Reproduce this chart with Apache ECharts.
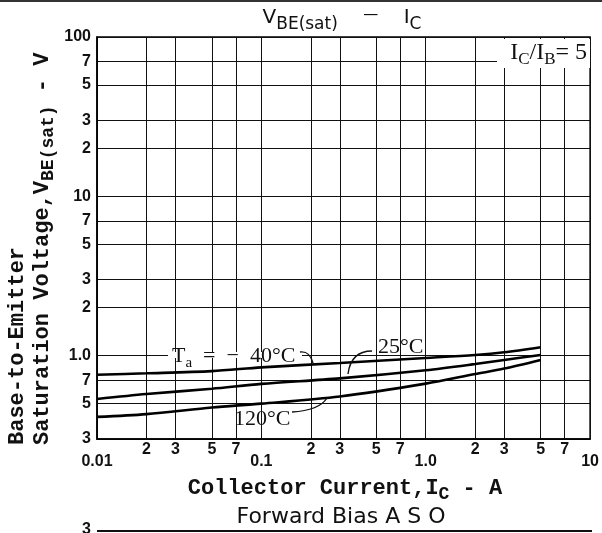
<!DOCTYPE html>
<html>
<head>
<meta charset="utf-8">
<script src="https://cdn.jsdelivr.net/npm/echarts@6/dist/echarts.min.js"></script>
<style>
  html, body { margin: 0; padding: 0; background: #fff; }
  #chart { width: 602px; height: 533px; }
</style>
</head>
<body>
<div id="chart"></div>
<script>
// collector current (A) and VBE(sat) (V)
var currentA = [0.01, 0.02, 0.05, 0.1, 0.3, 1, 2, 3, 5];
var vbeMinus40 = [0.76, 0.775, 0.80, 0.845, 0.90, 0.967, 1.01, 1.05, 1.13];
var vbe25 = [0.535, 0.575, 0.62, 0.665, 0.72, 0.81, 0.886, 0.94, 1.01];
var vbe120 = [0.413, 0.43, 0.473, 0.50, 0.555, 0.668, 0.767, 0.83, 0.94];

// grid / tick values
var xGridTicks = [0.01, 0.02, 0.03, 0.05, 0.07, 0.1, 0.2, 0.3, 0.5, 0.7, 1, 2, 3, 5, 7, 10];
var xMajorTicks = [0.01, 0.1, 1, 10];
var xMajorLabels = ['0.01', '0.1', '1.0', '10'];
var xMinorTicks = [0.02, 0.03, 0.05, 0.07, 0.2, 0.3, 0.5, 0.7, 2, 3, 5, 7];
var xMinorLabels = ['2', '3', '5', '7', '2', '3', '5', '7', '2', '3', '5', '7'];
var yTicks = [0.3, 0.5, 0.7, 1, 2, 3, 5, 7, 10, 20, 30, 50, 70, 100];
var yTickLabels = ['3', '5', '7', '1.0', '2', '3', '5', '7', '10', '2', '3', '5', '7', '100'];

function pick(v, ticks, labels) {
  var best = 0;
  for (var i = 1; i < ticks.length; i++) {
    if (Math.abs(Math.log(v / ticks[i])) < Math.abs(Math.log(v / ticks[best]))) best = i;
  }
  return labels[best];
}
function pairs(xs, ys) {
  return xs.map(function (x, i) { return [x, ys[i]]; });
}

var tickFont = { fontFamily: 'Liberation Sans', fontWeight: 'bold', fontSize: 16, color: '#111' };
var mono = 'Liberation Mono';
var serif = 'Liberation Serif';

var chart = echarts.init(document.getElementById('chart'));

var option = {
  animation: false,
  backgroundColor: '#fff',
  grid: {
    left: 97, right: 10, top: 37, bottom: 94,
    show: true, borderColor: '#000', borderWidth: 1.5
  },
  xAxis: [
    {
      type: 'log', logBase: 10, min: 0.01, max: 10,
      axisLine: { lineStyle: { color: '#000', width: 1.5 } },
      axisTick: { show: false, customValues: xGridTicks },
      splitLine: { show: true, lineStyle: { color: '#111', width: 1 } },
      axisLabel: Object.assign({
        customValues: xMajorTicks, margin: 15,
        formatter: function (v) { return pick(v, xMajorTicks, xMajorLabels); }
      }, tickFont)
    },
    {
      type: 'log', logBase: 10, min: 0.01, max: 10, position: 'bottom',
      axisLine: { show: false },
      axisTick: { show: false },
      splitLine: { show: false },
      axisLabel: Object.assign({
        customValues: xMinorTicks, margin: 3,
        formatter: function (v) { return pick(v, xMinorTicks, xMinorLabels); }
      }, tickFont)
    }
  ],
  yAxis: {
    type: 'log', logBase: 10, min: 0.3, max: 100,
    axisLine: { lineStyle: { color: '#000', width: 1.5 } },
    axisTick: { show: false, customValues: yTicks },
    splitLine: { show: true, lineStyle: { color: '#111', width: 1 } },
    axisLabel: Object.assign({
      customValues: yTicks, margin: 6,
      formatter: function (v) { return pick(v, yTicks, yTickLabels); }
    }, tickFont)
  },
  series: [
    { name: '-40°C', type: 'line', data: pairs(currentA, vbeMinus40) },
    { name: '25°C', type: 'line', data: pairs(currentA, vbe25) },
    { name: '120°C', type: 'line', data: pairs(currentA, vbe120) }
  ].map(function (s) {
    s.smooth = 0.3;
    s.symbol = 'none';
    s.silent = true;
    s.lineStyle = { color: '#000', width: 2.6 };
    return s;
  }),
  graphic: [
    // page frame line at the top
    { type: 'rect', shape: { x: 0, y: 0, width: 602, height: 2 }, style: { fill: '#333' } },
    // title
    {
      type: 'text', x: 342, y: 19, z: 10,
      style: {
        text: '{v|V}{s|BE(sat)}{v|    }{d|—}{v|    I}{s|C}',
        align: 'center', verticalAlign: 'middle',
        rich: {
          v: { fontFamily: 'DejaVu Sans', fontSize: 20, lineHeight: 22, verticalAlign: 'top', fill: '#111' },
          d: { fontFamily: 'DejaVu Sans', fontSize: 15, lineHeight: 22, verticalAlign: 'top', fill: '#111' },
          s: { fontFamily: 'DejaVu Sans', fontSize: 17, lineHeight: 16, padding: [8, 0, 0, 0], verticalAlign: 'top', fill: '#111' }
        }
      }
    },
    // IC/IB = 5 box
    { type: 'rect', z: 1, shape: { x: 497, y: 39, width: 93, height: 29 }, style: { fill: '#fff' } },
    {
      type: 'text', x: 587, y: 53, z: 10,
      style: {
        text: '{m|I}{s|C}{m|/I}{s|B}{m|= 5}',
        align: 'right', verticalAlign: 'middle',
        rich: {
          m: { fontFamily: serif, fontSize: 24, lineHeight: 24, verticalAlign: 'top', fill: '#111' },
          s: { fontFamily: serif, fontSize: 17, lineHeight: 17, padding: [10, 0, 0, 0], verticalAlign: 'top', fill: '#111' }
        }
      }
    },
    // Ta = -40°C annotation
    { type: 'rect', z: 1, shape: { x: 168, y: 352, width: 134, height: 6 }, style: { fill: '#fff' } },
    {
      type: 'text', x: 172, y: 356, z: 10,
      style: {
        text: '{m|T}{s|a}{m|  =  −  40°C}',
        align: 'left', verticalAlign: 'middle',
        rich: {
          m: { fontFamily: serif, fontSize: 22, lineHeight: 22, verticalAlign: 'top', fill: '#111' },
          s: { fontFamily: serif, fontSize: 15, lineHeight: 15, padding: [11, 0, 0, 0], verticalAlign: 'top', fill: '#111' }
        }
      }
    },
    {
      type: 'bezierCurve', z: 10,
      shape: { x1: 300, y1: 352, cpx1: 308, cpy1: 351, cpx2: 311, cpy2: 356, x2: 313, y2: 363 },
      style: { stroke: '#111', lineWidth: 1.4, fill: null }
    },
    // 25°C annotation
    {
      type: 'text', x: 378, y: 347, z: 10,
      style: { text: '25°C', align: 'left', verticalAlign: 'middle', fontFamily: serif, fontSize: 22, fill: '#111' }
    },
    {
      type: 'bezierCurve', z: 10,
      shape: { x1: 372, y1: 351, cpx1: 358, cpy1: 351, cpx2: 350, cpy2: 358, x2: 348, y2: 374 },
      style: { stroke: '#111', lineWidth: 1.4, fill: null }
    },
    // 120°C annotation
    {
      type: 'text', x: 234, y: 419, z: 10,
      style: { text: '120°C', align: 'left', verticalAlign: 'middle', fontFamily: serif, fontSize: 22, fill: '#111' }
    },
    {
      type: 'bezierCurve', z: 10,
      shape: { x1: 292, y1: 412, cpx1: 310, cpy1: 411, cpx2: 322, cpy2: 406, x2: 327, y2: 398 },
      style: { stroke: '#111', lineWidth: 1.4, fill: null }
    },
    // x axis title
    {
      type: 'text', x: 345, y: 488,
      style: {
        text: '{m|Collector Current,I}{s|C}{m| - A}',
        align: 'center', verticalAlign: 'middle',
        rich: {
          m: { fontFamily: mono, fontWeight: 'bold', fontSize: 22, lineHeight: 22, verticalAlign: 'top', fill: '#111' },
          s: { fontFamily: mono, fontWeight: 'bold', fontSize: 18, lineHeight: 18, padding: [8, 0, 0, 0], verticalAlign: 'top', fill: '#111' }
        }
      }
    },
    // y axis title (two lines)
    {
      type: 'text', x: 17, y: 445, rotation: Math.PI / 2,
      style: {
        text: 'Base-to-Emitter', align: 'left', verticalAlign: 'middle',
        fontFamily: mono, fontWeight: 'bold', fontSize: 22, fill: '#111'
      }
    },
    {
      type: 'text', x: 42, y: 445, rotation: Math.PI / 2,
      style: {
        text: '{m|Saturation Voltage,V}{s|BE(sat)}{m| - V}',
        align: 'left', verticalAlign: 'middle',
        rich: {
          m: { fontFamily: mono, fontWeight: 'bold', fontSize: 22, lineHeight: 22, verticalAlign: 'top', fill: '#111' },
          s: { fontFamily: mono, fontWeight: 'bold', fontSize: 18, lineHeight: 18, padding: [8, 0, 0, 0], verticalAlign: 'top', fill: '#111' }
        }
      }
    },
    // next chart heading at the bottom
    {
      type: 'text', x: 341, y: 517,
      style: { text: 'Forward Bias A S O', align: 'center', verticalAlign: 'middle', fontFamily: 'DejaVu Sans', fontSize: 22, fill: '#111' }
    },
    { type: 'rect', shape: { x: 97, y: 530, width: 495, height: 2 }, style: { fill: '#111' } },
    {
      type: 'text', x: 91, y: 530,
      style: { text: '3', align: 'right', verticalAlign: 'middle', fontFamily: 'Liberation Sans', fontWeight: 'bold', fontSize: 16, fill: '#111' }
    }
  ]
};

chart.setOption(option);
</script>
</body>
</html>
